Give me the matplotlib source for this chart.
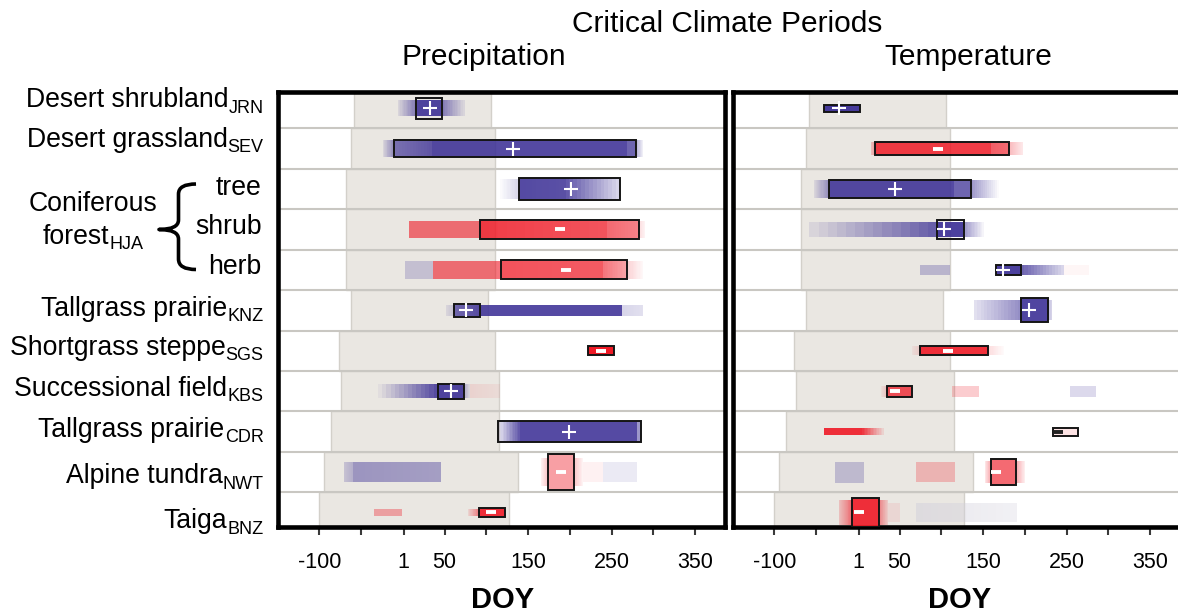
import matplotlib
matplotlib.use("Agg")
import matplotlib.pyplot as plt
import numpy as np
from matplotlib.path import Path
from matplotlib.patches import PathPatch

plt.rcParams['font.family'] = ['Liberation Sans', 'DejaVu Sans']

# ---------------- data ----------------
row_main = ["Desert shrubland", "Desert grassland", "tree", "shrub", "herb",
            "Tallgrass prairie", "Shortgrass steppe", "Successional field",
            "Tallgrass prairie", "Alpine tundra", "Taiga"]
row_sub = ["JRN", "SEV", "", "", "", "KNZ", "SGS", "KBS", "CDR", "NWT", "BNZ"]
group_lines = ["Coniferous", "forest"]
group_sub = "HJA"

# grey (dormant-season) band per row, DOY
band_start = [-58, -62, -68, -68, -68, -62, -77, -74, -86, -95, -100]
band_end = [106, 110, 111, 111, 111, 102, 111, 115, 115, 138, 127]

tick_values = [-100, -50, 1, 50, 100, 150, 200, 250, 300, 350]
tick_labels = ["-100", "", "1", "50", "", "150", "", "250", "", "350"]

# shaded segments: (row, start, end, colour, alpha at start, alpha at end, height)
precip_segments = [
    (0, -6, 16, 'b', 0.1, 0.6, 0.38), (0, 16, 47, 'b', 0.9, 0.9, 0.38),
    (0, 47, 74, 'b', 0.6, 0.1, 0.38),
    (1, -24, -11, 'b', 0.1, 0.5, 0.41), (1, -11, 35, 'b', 0.65, 0.8, 0.41),
    (1, 35, 268, 'b', 0.88, 0.88, 0.41), (1, 268, 279, 'b', 0.75, 0.75, 0.41),
    (1, 279, 288, 'b', 0.4, 0.05, 0.41),
    (2, 117, 139, 'b', 0.02, 0.2, 0.5), (2, 139, 195, 'b', 0.88, 0.85, 0.54),
    (2, 195, 260, 'b', 0.8, 0.2, 0.54),
    (3, 7, 92, 'r', 0.6, 0.6, 0.42), (3, 92, 245, 'r', 0.85, 0.75, 0.45),
    (3, 245, 283, 'r', 0.65, 0.55, 0.45), (3, 283, 290, 'r', 0.15, 0.05, 0.42),
    (4, 3, 36, 'b', 0.22, 0.22, 0.45), (4, 36, 118, 'r', 0.6, 0.6, 0.45),
    (4, 118, 240, 'r', 0.75, 0.72, 0.47), (4, 240, 268, 'r', 0.6, 0.4, 0.47),
    (4, 268, 288, 'r', 0.2, 0.03, 0.45),
    (5, 52, 61, 'b', 0.1, 0.2, 0.27), (5, 61, 92, 'b', 0.7, 0.85, 0.27),
    (5, 92, 263, 'b', 0.88, 0.88, 0.27), (5, 263, 288, 'b', 0.2, 0.15, 0.27),
    (6, 222, 253, 'r', 1.0, 1.0, 0.21),
    (7, -30, 42, 'b', 0.05, 0.85, 0.33), (7, 42, 73, 'b', 0.9, 0.9, 0.37),
    (7, 73, 80, 'b', 0.35, 0.1, 0.33), (7, 80, 116, 'r', 0.1, 0.06, 0.33),
    (8, 114, 140, 'b', 0.12, 0.8, 0.5), (8, 140, 280, 'b', 0.88, 0.88, 0.5),
    (8, 280, 285, 'b', 0.5, 0.5, 0.5),
    (9, -71, -60, 'b', 0.2, 0.3, 0.48), (9, -60, 46, 'b', 0.45, 0.4, 0.48),
    (9, 165, 174, 'r', 0.05, 0.25, 0.7), (9, 174, 205, 'r', 0.42, 0.42, 0.9),
    (9, 205, 216, 'r', 0.25, 0.05, 0.7), (9, 216, 240, 'r', 0.06, 0.06, 0.48),
    (9, 240, 280, 'b', 0.1, 0.1, 0.48),
    (10, -34, -1, 'r', 0.35, 0.35, 0.19), (10, 78, 91, 'r', 0.1, 0.5, 0.19),
    (10, 91, 122, 'r', 0.9, 0.9, 0.22),
]

temp_segments = [
    (0, -40, 3, 'b', 0.95, 0.95, 0.17),
    (1, 16, 21, 'r', 0.2, 0.4, 0.33), (1, 21, 160, 'r', 0.85, 0.85, 0.33),
    (1, 160, 181, 'r', 0.7, 0.65, 0.33), (1, 181, 198, 'r', 0.3, 0.1, 0.33),
    (2, -52, -35, 'b', 0.1, 0.5, 0.45), (2, -35, 115, 'b', 0.88, 0.88, 0.45),
    (2, 115, 135, 'b', 0.75, 0.75, 0.45), (2, 135, 169, 'b', 0.5, 0.02, 0.45),
    (3, -58, 95, 'b', 0.1, 0.75, 0.37), (3, 95, 127, 'b', 0.92, 0.92, 0.37),
    (3, 127, 151, 'b', 0.5, 0.05, 0.37),
    (4, 75, 110, 'b', 0.28, 0.28, 0.26), (4, 166, 196, 'b', 0.92, 0.92, 0.26),
    (4, 196, 247, 'b', 0.75, 0.2, 0.26), (4, 247, 277, 'r', 0.04, 0.04, 0.26),
    (5, 139, 196, 'b', 0.15, 0.55, 0.5), (5, 196, 228, 'b', 0.9, 0.9, 0.6),
    (5, 228, 233, 'b', 0.3, 0.2, 0.5),
    (6, 65, 75, 'r', 0.05, 0.15, 0.22), (6, 75, 156, 'r', 0.9, 0.9, 0.22),
    (6, 156, 175, 'r', 0.15, 0.02, 0.22),
    (7, 28, 35, 'r', 0.05, 0.2, 0.28), (7, 35, 65, 'r', 0.75, 0.75, 0.28),
    (7, 113, 145, 'r', 0.22, 0.22, 0.28), (7, 254, 285, 'b', 0.18, 0.18, 0.28),
    (8, -41, 5, 'r', 0.9, 0.9, 0.18), (8, 5, 31, 'r', 0.85, 0.1, 0.18),
    (8, 234, 264, 'r', 0.12, 0.12, 0.2),
    (9, -27, 8, 'b', 0.25, 0.25, 0.52), (9, 70, 117, 'r', 0.25, 0.25, 0.5),
    (9, 152, 159, 'r', 0.1, 0.35, 0.55), (9, 159, 190, 'r', 0.65, 0.65, 0.62),
    (9, 190, 200, 'r', 0.35, 0.08, 0.55),
    (10, -22, -7, 'r', 0.2, 0.6, 0.62), (10, -7, 25, 'r', 0.9, 0.9, 0.72),
    (10, 25, 36, 'r', 0.5, 0.15, 0.62), (10, 36, 50, 'r', 0.08, 0.08, 0.47),
    (10, 70, 191, 'g', 0.5, 0.3, 0.47),
]

# critical-period boxes: (row, start, end, height, sign, sign DOY, sign colour)
precip_boxes = [
    (0, 16, 47, 0.52, '+', 33, 'w'), (1, -11, 279, 0.41, '+', 132, 'w'),
    (2, 139, 260, 0.54, '+', 201, 'w'), (3, 92, 283, 0.45, '-', 188, 'w'),
    (4, 118, 268, 0.47, '-', 195, 'w'), (5, 61, 92, 0.31, '+', 76, 'w'),
    (6, 222, 253, 0.21, '-', 237, 'w'), (7, 42, 73, 0.37, '+', 58, 'w'),
    (8, 114, 285, 0.5, '+', 199, 'w'), (9, 174, 205, 0.9, '-', 190, 'w'),
    (10, 91, 122, 0.22, '-', 106, 'w'),
]
temp_boxes = [
    (0, -40, 3, 0.17, '+', -23, 'w'), (1, 21, 181, 0.33, '-', 96, 'w'),
    (2, -35, 135, 0.45, '+', 45, 'w'), (3, 95, 127, 0.46, '+', 103, 'w'),
    (4, 166, 196, 0.26, '+', 174, 'w'), (5, 196, 228, 0.6, '+', 205, 'w'),
    (6, 75, 156, 0.22, '-', 108, 'w'), (7, 35, 65, 0.28, '-', 44, 'w'),
    (8, 234, 264, 0.2, '-', 240, 'k'), (9, 159, 190, 0.62, '-', 166, 'w'),
    (10, -7, 25, 0.72, '-', 1, 'w'),
]

# ---------------- style ----------------
COLORS = {'b': '#3d3196', 'r': '#ef1a26', 'g': '#d2d0dc'}
SIGN_COLORS = {'w': 'white', 'k': '#222222'}
BAND = '#eae7e2'
BAND_EDGE = '#d3d0ca'
SEP = '#c9c7c2'

W, H = 1178, 613
fig = plt.figure(figsize=(W / 100, H / 100), dpi=100)


def px_axes(left, top, right, bottom, **kw):
    return fig.add_axes([left / W, 1 - bottom / H, (right - left) / W, (bottom - top) / H], **kw)


ax_p = px_axes(277.5, 92, 724.5, 527)
ax_t = px_axes(732.5, 92, 1179.5, 527)
ov = px_axes(0, 0, W, H, zorder=-1)
ov.set_xlim(0, W)
ov.set_ylim(H, 0)
ov.axis('off')
ov.patch.set_alpha(0)

rows = np.arange(len(row_main))


def draw_segment(ax, row, a, b, ck, a0, a1, h):
    col = COLORS[ck]
    if abs(a0 - a1) < 1e-9:
        ax.barh(row, b - a, left=a, height=h, color=col, alpha=a0, linewidth=0, zorder=3)
        return
    n = 14
    edges = np.linspace(a, b, n + 1)
    alphas = np.linspace(a0, a1, n)
    for i in range(n):
        ax.barh(row, edges[i + 1] - edges[i], left=edges[i], height=h, color=col,
                alpha=alphas[i], linewidth=0, zorder=3)


def draw_panel(ax, segments, boxes, right_spine=True):
    ax.set_xlim(-150.1, 385.3)
    ax.set_ylim(10.36, -0.40)
    bs = np.array(band_start)
    be = np.array(band_end)
    ax.barh(rows, be - bs, left=bs, height=1.0, color=BAND, edgecolor=BAND_EDGE,
            linewidth=1.0, zorder=0)
    for k in range(1, len(rows)):
        ax.axhline(k - 0.5, color=SEP, lw=1.5, zorder=1)
    for seg in segments:
        draw_segment(ax, *seg)
    for (row, a, b, h, sgn, sx, sc) in boxes:
        ax.barh(row, b - a, left=a, height=h, fill=False, edgecolor='#151515',
                linewidth=1.4, zorder=5)
        if sgn == '+':
            ax.plot(sx, row, marker='+', ms=9.5, mew=1.5, color=SIGN_COLORS[sc], zorder=6)
        else:
            ax.plot(sx, row, marker='_', ms=6.5, mew=2.8, color=SIGN_COLORS[sc], zorder=6)
    ax.set_yticks([])
    ax.set_xticks(tick_values)
    ax.set_xticklabels(tick_labels, fontsize=15.5)
    ax.tick_params(axis='x', length=6, width=1.5, color='#3a3a3a', pad=12)
    for s in ax.spines.values():
        s.set_linewidth(3.3)
        s.set_color('black')
    if not right_spine:
        ax.spines['right'].set_visible(False)


draw_panel(ax_p, precip_segments, precip_boxes)
draw_panel(ax_t, temp_segments, temp_boxes, right_spine=False)

# ---------------- text ----------------
renderer = fig.canvas.get_renderer()
LAB = 19.2
SUB = 13


def label_right(x_right, y_base, main, sub):
    xr = x_right
    if sub:
        t = ov.text(x_right, y_base + 5.4, sub, ha='right', va='baseline', fontsize=SUB)
        xr = x_right - t.get_window_extent(renderer).width
    ov.text(xr, y_base, main, ha='right', va='baseline', fontsize=LAB)


label_baselines = [107.3, 146.7, 195, 234.3, 274, 316, 355, 396, 436.7, 483.3, 528.3]
label_right_x = [263.5, 263.5, 261.7, 261.7, 261.7, 263.5, 263.5, 263.5, 263.5, 263.5, 263.5]
for i in rows:
    label_right(label_right_x[i], label_baselines[i], row_main[i], row_sub[i])

# Coniferous forest group label
ov.text(93, 210.7, group_lines[0], ha='center', va='baseline', fontsize=LAB)
t_main = ov.text(0, 244, group_lines[1], ha='left', va='baseline', fontsize=LAB)
t_sub = ov.text(0, 249.4, group_sub, ha='left', va='baseline', fontsize=SUB)
wm = t_main.get_window_extent(renderer).width
ws = t_sub.get_window_extent(renderer).width
x0 = 93 - (wm + ws) / 2
t_main.set_x(x0)
t_sub.set_x(x0 + wm)

# brace
verts = [(196, 184), (178.5, 184), (178.5, 194),
         (178.5, 220),
         (178.5, 229.5), (159, 229.5),
         (178.5, 229.5), (178.5, 239),
         (178.5, 259),
         (178.5, 269.5), (196, 269.5)]
codes = [Path.MOVETO, Path.CURVE3, Path.CURVE3, Path.LINETO, Path.CURVE3, Path.CURVE3,
         Path.CURVE3, Path.CURVE3, Path.LINETO, Path.CURVE3, Path.CURVE3]
ov.add_patch(PathPatch(Path(verts, codes), fill=False, lw=2.6, edgecolor='black',
                       capstyle='butt', joinstyle='round'))

# titles
ov.text(726.7, 31.7, "Critical Climate Periods", ha='center', va='baseline', fontsize=21.5)
ov.text(484, 65, "Precipitation", ha='center', va='baseline', fontsize=21.5)
ov.text(968, 65, "Temperature", ha='center', va='baseline', fontsize=21.5)
ov.text(503, 608, "DOY", ha='center', va='baseline', fontsize=21, fontweight='bold')
ov.text(960, 608, "DOY", ha='center', va='baseline', fontsize=21, fontweight='bold')

fig.savefig("out.png", dpi=100)
